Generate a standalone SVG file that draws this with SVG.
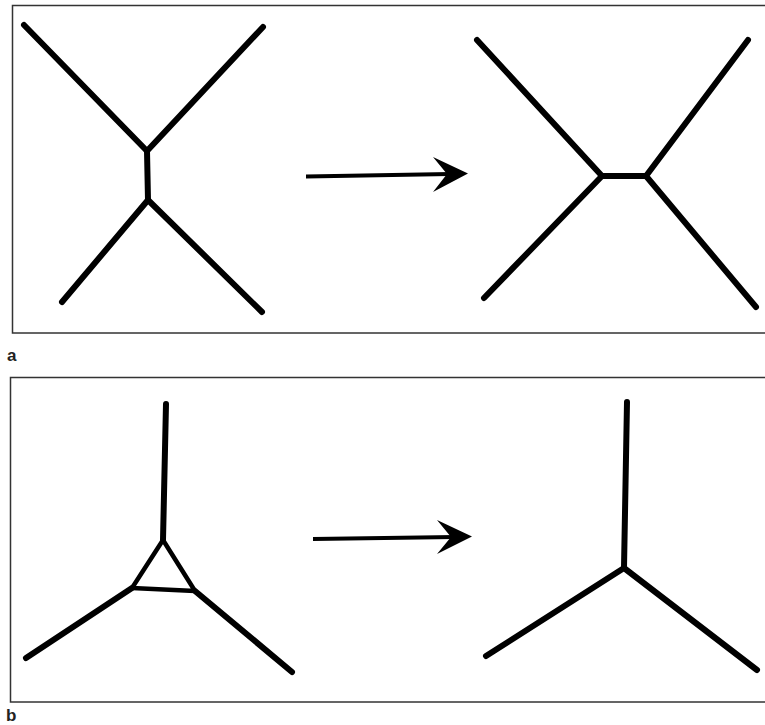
<svg xmlns="http://www.w3.org/2000/svg" width="765" height="725" viewBox="0 0 765 725">
  <style>
    .frame { fill: none; stroke: #333; stroke-width: 1.5; }
    .edge { fill: none; stroke: #000; stroke-width: 6; stroke-linecap: round; stroke-linejoin: round; }
    .thin { stroke-width: 4.5; }
    .shaft { fill: none; stroke: #000; stroke-width: 4; }
    .head { fill: #000; }
    .label { font-family: "Liberation Sans", Arial, sans-serif; font-size: 17px; font-weight: bold; fill: #222; }
  </style>

  <!-- panel frames -->
  <rect class="frame" x="12.5" y="5.5" width="760" height="327.5"/>
  <rect class="frame" x="10.5" y="377.5" width="760" height="324.5"/>
  <text class="label" x="7" y="361">a</text>
  <text class="label" x="6" y="721">b</text>

  <!-- panel a: before -->
  <g id="a-before">
    <polyline class="edge" points="24,25 147,151 263,27"/>
    <line class="edge" x1="147" y1="151" x2="148" y2="200"/>
    <polyline class="edge" points="62,302 148,200 262,312"/>
  </g>

  <!-- panel a: after -->
  <g id="a-after">
    <polyline class="edge" points="477,40 602,176 484,298"/>
    <line class="edge" x1="602" y1="176" x2="646" y2="176"/>
    <polyline class="edge" points="748,40 646,176 756,307"/>
  </g>

  <!-- panel b: before -->
  <g id="b-before">
    <line class="edge" x1="166" y1="404" x2="163" y2="540"/>
    <polygon class="edge thin" points="163,540 132,588 195,591"/>
    <line class="edge" x1="132" y1="588" x2="26" y2="658"/>
    <line class="edge" x1="195" y1="591" x2="292" y2="672"/>
  </g>

  <!-- panel b: after -->
  <g id="b-after">
    <line class="edge" x1="627" y1="402" x2="624" y2="568"/>
    <polyline class="edge" points="486,656 624,568 757,670"/>
  </g>

  <!-- transformation arrows -->
  <g id="arrows">
    <line class="shaft" x1="306" y1="176.5" x2="450" y2="174"/>
    <polygon class="head" points="468,173.5 433,157 447,174 433,192"/>
    <line class="shaft" x1="313" y1="539" x2="455" y2="537"/>
    <polygon class="head" points="472,536.5 437,520 451,537 437,554"/>
  </g>
</svg>
